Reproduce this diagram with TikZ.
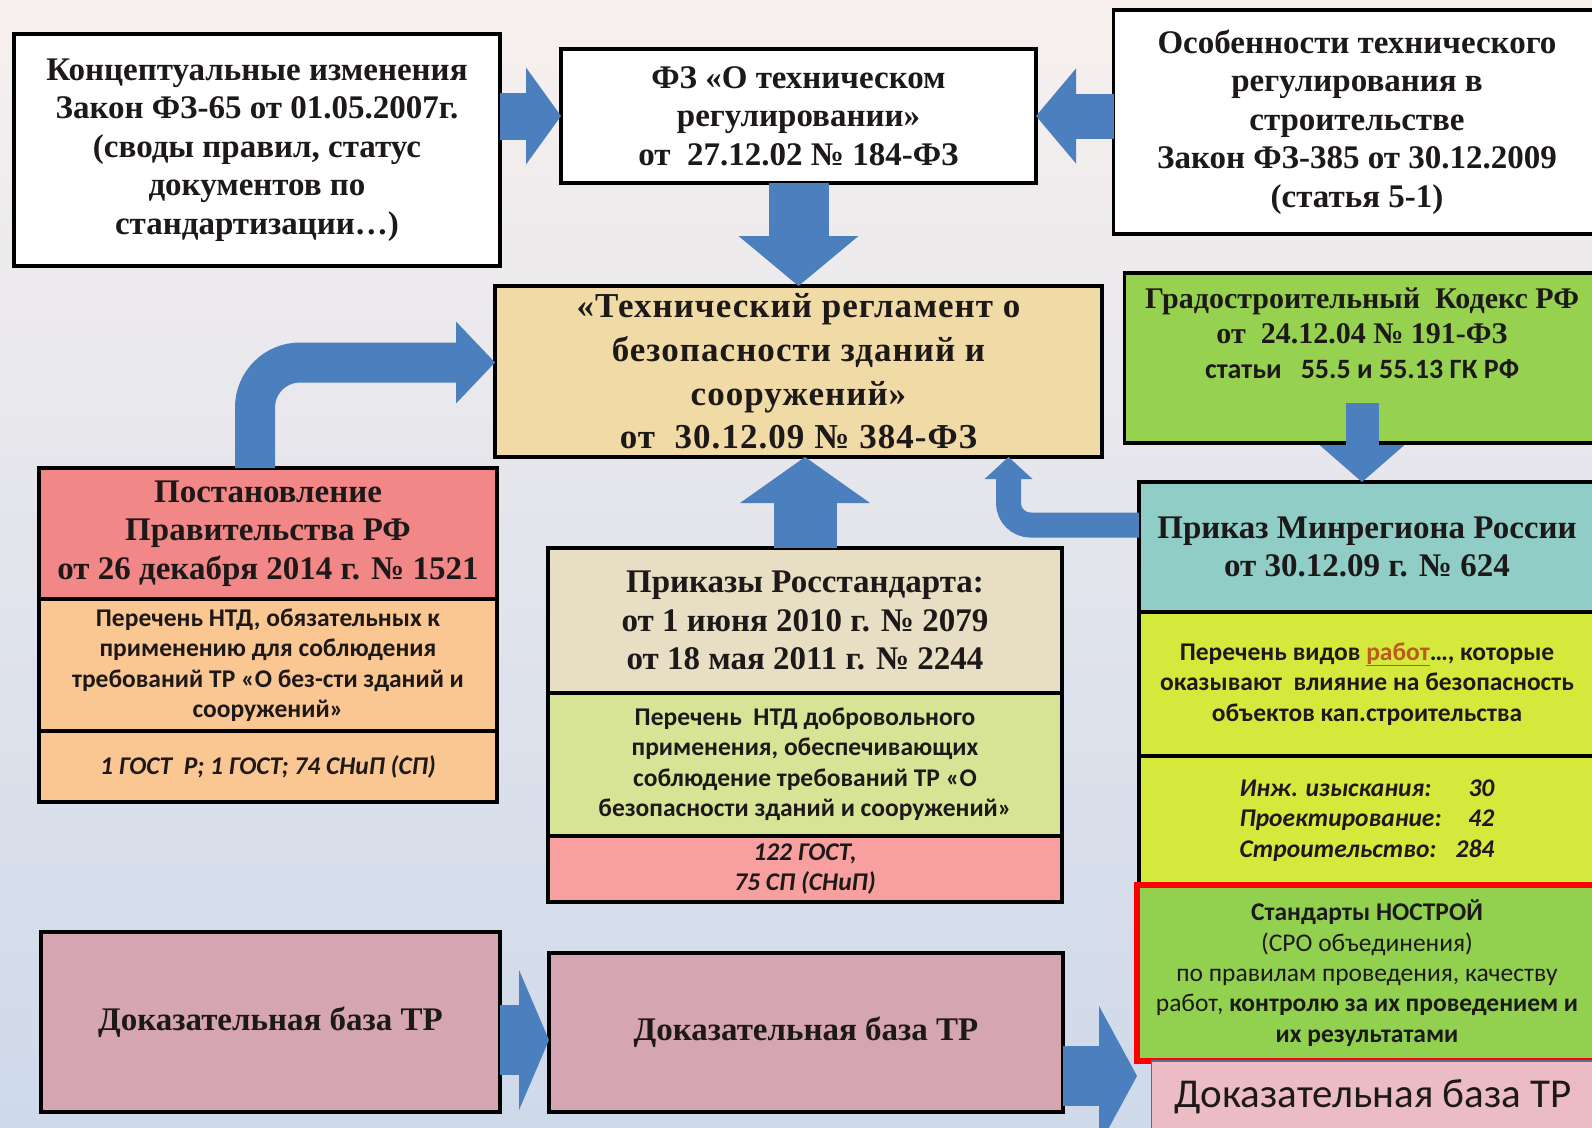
\documentclass[tikz,border=0pt]{standalone}
\usepackage{fontspec}
\setmainfont{Liberation Serif}
\newfontfamily\calibri{Carlito}
\usetikzlibrary{arrows.meta,positioning,calc}

\definecolor{arrowblue}{RGB}{76,127,189}
\definecolor{inkdark}{RGB}{30,25,25}
\definecolor{bgtop}{RGB}{247,240,238}
\definecolor{bgmid}{RGB}{224,229,240}
\definecolor{bgbottom}{RGB}{206,217,234}
\definecolor{tanfill}{RGB}{240,218,165}
\definecolor{limefill}{RGB}{150,210,80}
\definecolor{pinkfill}{RGB}{242,135,135}
\definecolor{orangefill}{RGB}{250,198,145}
\definecolor{beigefill}{RGB}{231,222,196}
\definecolor{palegreenfill}{RGB}{215,228,150}
\definecolor{rosefill}{RGB}{248,160,160}
\definecolor{tealfill}{RGB}{143,205,198}
\definecolor{yellowfill}{RGB}{213,232,60}
\definecolor{greenfill}{RGB}{146,208,80}
\definecolor{kfill}{RGB}{236,188,196}
\definecolor{kborder}{RGB}{90,110,145}
\definecolor{mauvefill}{RGB}{213,165,178}
\definecolor{rabotcolor}{RGB}{190,90,30}

\begin{document}
\begin{tikzpicture}[x=1pt, y=-1pt,
    box/.style={rectangle, draw=black, line width=3.5pt, outer sep=0pt, align=center, text=inkdark},
    serif/.style={font=\fontsize{33}{38.6}\selectfont\bfseries},
    sans/.style={font=\calibri\fontsize{25.5}{30.5}\selectfont\bfseries},
    sansit/.style={font=\calibri\fontsize{25.5}{30.5}\selectfont\bfseries\itshape},
    lawbox/.style={box, fill=white, serif},
    bigarrow/.style={draw=arrowblue, line width=#1}
]

\useasboundingbox (0,0) rectangle (1592,1127);
\clip (0,0) rectangle (1592,1127);
\shade[top color=bgtop, middle color=bgmid, bottom color=bgbottom] (0,0) rectangle (1592,1127);

% top row
\node (koncept) [lawbox, minimum width=486pt, minimum height=232pt] at (257,150)
    {Концептуальные изменения\\Закон ФЗ-65 от 01.05.2007г.\\(своды правил, статус\\документов по\\стандартизации…)};
\node (fz184) [lawbox, minimum width=475pt, minimum height=134pt] at (798.5,116)
    {ФЗ «О техническом\\регулировании»\\от~~27.12.02 № 184-ФЗ};
\node (osobennosti) [lawbox, minimum width=487pt, minimum height=224pt] at (1357,122)
    {Особенности технического\\регулирования в\\строительстве\\Закон ФЗ-385 от 30.12.2009\\(статья 5-1)};

% regulation
\node (reglament) [box, fill=tanfill, minimum width=607pt, minimum height=171pt,
    font=\fontsize{35}{43.7}\selectfont\bfseries\addfontfeature{LetterSpace=3}] at (798.5,371.5)
    {«Технический регламент о\\безопасности зданий и\\сооружений»\\от~~30.12.09 № 384-ФЗ};
\node (gradkodeks) [box, fill=limefill, minimum width=475pt, minimum height=170pt] at (1362,358) {};
\node (gradtext) [anchor=north, inner sep=0pt, align=center, text=inkdark,
    font=\fontsize{30}{35}\selectfont\bfseries] at ([yshift=-15pt]gradkodeks.north)
    {Градостроительный~~Кодекс РФ\\от~~24.12.04 № 191-ФЗ\\{\calibri\fontsize{28}{35}\selectfont статьи~~~55.5 и 55.13 ГК РФ}};

% left column
\node (postanovlenie) [box, fill=pinkfill, minimum width=458pt, minimum height=131pt, serif] at (268,533.5)
    {Постановление\\Правительства РФ\\от 26 декабря 2014 г. № 1521};
\node (perechen1) [box, fill=orangefill, minimum width=458pt, minimum height=132pt, sans, below=0pt of postanovlenie]
    {Перечень НТД, обязательных к\\применению для соблюдения\\требований ТР «О без-сти зданий и\\сооружений»};
\node (gost1) [box, fill=orangefill, minimum width=458pt, minimum height=71pt, sansit, below=0pt of perechen1]
    {1 ГОСТ~~Р; 1 ГОСТ; 74 СНиП (СП)};

% middle column
\node (rosstandart) [box, fill=beigefill, minimum width=514pt, minimum height=145pt, serif] at (805,620.5)
    {Приказы Росстандарта:\\от 1 июня 2010 г. № 2079\\от 18 мая 2011 г. № 2244};
\node (perechen2) [box, fill=palegreenfill, minimum width=514pt, minimum height=143pt, sans, below=0pt of rosstandart]
    {Перечень~~НТД добровольного\\применения, обеспечивающих\\соблюдение требований ТР «О\\безопасности зданий и сооружений»};
\node (gost2) [box, fill=rosefill, minimum width=514pt, minimum height=66pt, sansit, below=0pt of perechen2]
    {122 ГОСТ,\\75 СП (СНиП)};

% right column
\node (minregion) [box, fill=tealfill, minimum width=456pt, minimum height=130pt, serif] at (1367,547)
    {Приказ Минрегиона России\\от 30.12.09 г. № 624};
\node (vidyrabot) [box, fill=yellowfill, minimum width=456pt, minimum height=144pt, sans, below=0pt of minregion]
    {Перечень видов {\color{rabotcolor}\underline{работ}}…, которые\\оказывают~~влияние на безопасность\\объектов кап.строительства};
\node (izyskaniya) [box, fill=yellowfill, minimum width=456pt, minimum height=129pt, sansit, below=0pt of vidyrabot]
    {\begin{tabular}{@{}l@{\hspace{14pt}}r@{}}Инж. изыскания: & 30\\Проектирование: & 42\\Строительство: & 284\end{tabular}};
\node (nostroy) [box, draw=red, line width=6pt, fill=greenfill, minimum width=460pt, minimum height=176pt,
    font=\calibri\fontsize{25.5}{30.4}\selectfont, below=0pt of izyskaniya]
    {\textbf{Стандарты НОСТРОЙ}\\(СРО объединения)\\по правилам проведения, качеству\\работ, \textbf{контролю за их проведением и}\\\textbf{их результатами}};
\node (dokbaza3) [rectangle, draw=kborder, line width=1.5pt, fill=kfill, minimum width=443pt, minimum height=72pt,
    outer sep=0pt, text=inkdark, font=\calibri\fontsize{41}{44}\selectfont, below=0pt of nostroy, xshift=6pt]
    {Доказательная база ТР};

% bottom row
\node (dokbaza1) [box, fill=mauvefill, minimum width=459pt, minimum height=180pt, serif] at (270.5,1022) {Доказательная база ТР};
\node (dokbaza2) [box, fill=mauvefill, minimum width=514pt, minimum height=159pt, serif] at (806,1032.5) {Доказательная база ТР};

% arrows
\draw [bigarrow=47pt, -{Triangle[length=35pt, width=97pt, line width=0pt]}] (koncept.east |- fz184.west) -- (fz184.west);
\draw [bigarrow=45pt, -{Triangle[length=40pt, width=95pt, line width=0pt]}] (osobennosti.west |- fz184.east) -- (fz184.east);
\draw [bigarrow=60pt, -{Triangle[length=50pt, width=120pt, line width=0pt]}] (fz184.south) -- (reglament.north);
\draw [bigarrow=63pt, -{Triangle[length=46pt, width=130pt, line width=0pt]}] (rosstandart.north) -- (rosstandart.north |- reglament.south);
\draw [bigarrow=40pt, rounded corners=45pt, -{Triangle[length=39pt, width=82pt, line width=0pt]}]
    ([xshift=-13pt]postanovlenie.north) |- ([yshift=9pt]reglament.west);
\draw [bigarrow=25pt, rounded corners=22pt, -{Triangle[length=22pt, width=48pt, line width=0pt]}]
    ([yshift=22pt]minregion.west) -| ([xshift=210pt]reglament.south);
\draw [bigarrow=33pt, -{Triangle[length=37pt, width=85pt, line width=0pt]}] ([yshift=40pt]gradkodeks.south) -- (gradkodeks.south |- minregion.north);
\draw [bigarrow=70pt, -{Triangle[length=30pt, width=140pt, line width=0pt]}] ([yshift=-18pt]dokbaza1.east) -- ([yshift=-18pt]dokbaza1.east -| dokbaza2.west);
\draw [bigarrow=60pt, -{Triangle[length=38pt, width=140pt, line width=0pt]}] ([yshift=-43.5pt]dokbaza2.east) -- ([yshift=-43.5pt]dokbaza2.east -| nostroy.west);
\end{tikzpicture}
\end{document}
